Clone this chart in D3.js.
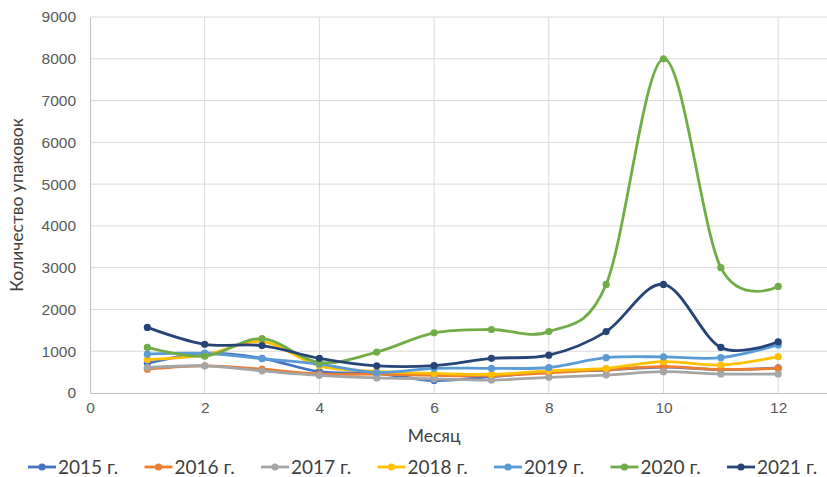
<!DOCTYPE html>
<html lang="ru">
<head>
  <meta charset="UTF-8">
  <style>
    body { margin: 0; background: #fff; }
    svg { font-family: Lato, "Open Sans", sans-serif; display: block; }
    .tick text { fill: #595959; font-size: 15.5px; }
    .label { fill: #404040; font-size: 17.5px; text-anchor: middle; }
    .legend text { fill: #404040; font-size: 19px; }
  </style>
</head>
<body>
  <script src="https://d3js.org/d3.v7.min.js"></script>
  <svg></svg>
  <script>
//data
const months = [1, 2, 3, 4, 5, 6, 7, 8, 9, 10, 11, 12];
const years = ["2015 г.", "2016 г.", "2017 г.", "2018 г.", "2019 г.", "2020 г.", "2021 г."];
const colors = ["#4472C4", "#ED7D31", "#A5A5A5", "#FFC000", "#5B9BD5", "#70AD47", "#264478"];
const v2015 = [710, 950, 830, 510, 470, 300, 390, 510, 550, 620, 560, 600];
const v2016 = [570, 650, 570, 455, 450, 420, 415, 480, 560, 630, 565, 590];
const v2017 = [610, 650, 530, 420, 360, 340, 310, 375, 430, 510, 455, 455];
const v2018 = [800, 910, 1230, 650, 520, 470, 445, 530, 590, 750, 670, 870];
const v2019 = [930, 950, 820, 690, 490, 590, 590, 610, 845, 865, 845, 1150];
const v2020 = [1090, 880, 1300, 730, 980, 1440, 1520, 1470, 2600, 8000, 3000, 2550];
const v2021 = [1570, 1165, 1135, 830, 650, 655, 830, 905, 1470, 2600, 1090, 1225];
const series = [v2015, v2016, v2017, v2018, v2019, v2020, v2021];
const xTicks = [0, 2, 4, 6, 8, 10, 12];
const yTicks = d3.range(0, 9001, 1000);

const w = 827;
const h = 477;
const plotLeft = 90, plotTop = 17, plotBottom = 393;

const svg = d3.select("svg")
              .attr("width", w)
              .attr("height", h);

const xScale = d3.scaleLinear()
                 .domain([0, 13])
                 .range([plotLeft, plotLeft + 13 * 57.35]);

const yScale = d3.scaleLinear()
                 .domain([0, 9000])
                 .range([plotBottom, plotTop]);

//grid lines
svg.append("g")
   .selectAll("line")
   .data(yTicks.slice(1))
   .enter()
   .append("line")
   .attr("x1", plotLeft)
   .attr("x2", w)
   .attr("y1", d => yScale(d))
   .attr("y2", d => yScale(d))
   .attr("stroke", "#d9d9d9");

svg.append("g")
   .selectAll("line")
   .data(xTicks.slice(1))
   .enter()
   .append("line")
   .attr("x1", d => xScale(d))
   .attr("x2", d => xScale(d))
   .attr("y1", plotTop)
   .attr("y2", plotBottom)
   .attr("stroke", "#d9d9d9");

//axes
const xAxis = svg.append("g")
   .attr("transform", `translate(0, ${plotBottom})`)
   .call(d3.axisBottom(xScale).tickValues(xTicks).tickSize(0).tickPadding(9));
xAxis.select(".domain").attr("stroke", "#bfbfbf");

const yAxis = svg.append("g")
   .attr("transform", `translate(${plotLeft}, 0)`)
   .call(d3.axisLeft(yScale).tickValues(yTicks).tickFormat(d3.format("d")).tickSize(0).tickPadding(14));
yAxis.select(".domain").attr("stroke", "#bfbfbf");

//lines and markers
const line = d3.line()
               .x((d, i) => xScale(months[i]))
               .y(d => yScale(d))
               .curve(d3.curveCatmullRom.alpha(0));

series.forEach((s, k) => {
  const g = svg.append("g");
  g.append("path")
   .datum(s)
   .attr("d", line)
   .attr("fill", "none")
   .attr("stroke", colors[k])
   .attr("stroke-width", 2.8);
  g.selectAll("circle")
   .data(s)
   .enter()
   .append("circle")
   .attr("cx", (d, i) => xScale(months[i]))
   .attr("cy", d => yScale(d))
   .attr("r", 3.6)
   .attr("fill", colors[k]);
});

//axis titles
svg.append("text")
   .attr("class", "label")
   .attr("x", xScale(6))
   .attr("y", 442)
   .text("Месяц");

svg.append("text")
   .attr("class", "label")
   .attr("transform", "rotate(-90)")
   .attr("x", -205)
   .attr("y", 23)
   .text("Количество упаковок");

//legend
const legend = svg.append("g").attr("class", "legend")
   .selectAll("g")
   .data(years)
   .enter()
   .append("g")
   .attr("transform", (d, i) => `translate(${28 + i * 116.5}, 467)`);

legend.append("line")
   .attr("x1", 0).attr("x2", 28)
   .attr("y1", 0).attr("y2", 0)
   .attr("stroke", (d, i) => colors[i])
   .attr("stroke-width", 2.8);
legend.append("circle")
   .attr("cx", 14).attr("cy", 0).attr("r", 3.6)
   .attr("fill", (d, i) => colors[i]);
legend.append("text")
   .attr("x", 30)
   .attr("y", 6.5)
   .text(d => d);
  </script>
</body>
</html>
